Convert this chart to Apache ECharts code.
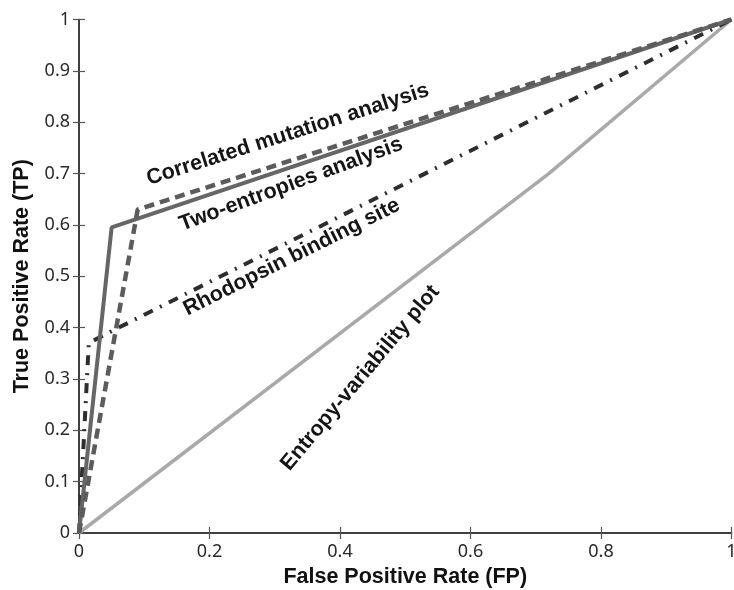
<!DOCTYPE html>
<html>
<head>
<meta charset="utf-8">
<script src="https://cdn.jsdelivr.net/npm/echarts@6/dist/echarts.min.js"></script>
<style>
  html, body { margin: 0; padding: 0; background: #fff; }
  #roc { width: 734px; height: 590px; }
</style>
</head>
<body>
<div id="roc"></div>
<script>
// 坐标轴刻度
const fpTicks = [0, 0.2, 0.4, 0.6, 0.8, 1]
const tpTicks = [0, 0.1, 0.2, 0.3, 0.4, 0.5, 0.6, 0.7, 0.8, 0.9, 1]

// 各条 ROC 曲线 (FP, TP)
const twoEntropiesFP = [0, 0.05, 1]
const twoEntropiesTP = [0, 0.595, 1]
const correlatedFP = [0, 0.09, 1]
const correlatedTP = [0, 0.63, 1]
const rhodopsinFP = [0, 0.015, 0.05, 1]
const rhodopsinTP = [0, 0.37, 0.393, 1]
const entropyFP = [0, 0.72, 1]
const entropyTP = [0, 0.70, 1]

// 曲线文字标注: 文本, 锚点(FP, TP), 角度
const labelTexts = ['Correlated mutation analysis', 'Two-entropies analysis', 'Rhodopsin binding site', 'Entropy-variability plot']
const labelFP = [0.32, 0.325, 0.326, 0.431]
const labelTP = [0.776, 0.679, 0.537, 0.302]
const labelAngle = [17.7, 20.3, 26.5, 50]

const pairs = (xs, ys) => xs.map((x, i) => [x, ys[i]])
const fmt = ticks => v => (ticks.includes(+v.toFixed(1)) ? String(+v.toFixed(1)) : '')

const myChart = echarts.init(document.querySelector('#roc'))

const axisLine = { show: true, lineStyle: { color: '#333', width: 1.5 } }
const tickIn = { show: true, inside: true, length: 6, lineStyle: { color: '#555', width: 1.2 } }
const tickFont = { color: '#2a2a2a', fontSize: 18, fontFamily: 'Noto Sans' }
const titleFont = { color: '#111', fontSize: 21.5, fontWeight: 'bold', fontFamily: 'Liberation Sans' }

const option = {
  animation: false,
  backgroundColor: '#fff',
  grid: { left: 79, right: 2.5, top: 19.5, bottom: 57, outerBoundsMode: 'none' },
  xAxis: [
    {
      type: 'value',
      min: 0,
      max: 1,
      interval: 0.2,
      name: 'False Positive Rate (FP)',
      nameLocation: 'middle',
      nameGap: 31,
      nameTextStyle: titleFont,
      axisLine: axisLine,
      axisTick: tickIn,
      axisLabel: { ...tickFont, margin: 10, formatter: fmt(fpTicks) },
      splitLine: { show: false },
    },
    {
      type: 'value',
      position: 'top',
      min: 0,
      max: 1,
      interval: 0.2,
      axisLine: axisLine,
      axisTick: tickIn,
      axisLabel: { show: false },
      splitLine: { show: false },
    },
  ],
  yAxis: [
    {
      type: 'value',
      min: 0,
      max: 1,
      interval: 0.1,
      name: 'True Positive Rate (TP)',
      nameLocation: 'middle',
      nameGap: 46,
      nameTextStyle: titleFont,
      axisLine: axisLine,
      axisTick: tickIn,
      axisLabel: { ...tickFont, margin: 9, formatter: fmt(tpTicks) },
      splitLine: { show: false },
    },
    {
      type: 'value',
      position: 'right',
      min: 0,
      max: 1,
      interval: 0.1,
      axisLine: axisLine,
      axisTick: tickIn,
      axisLabel: { show: false },
      splitLine: { show: false },
    },
  ],
  series: [
    {
      name: 'Entropy-variability plot',
      type: 'line',
      data: pairs(entropyFP, entropyTP),
      showSymbol: false,
      lineStyle: { color: '#a9a9a9', width: 3.5 },
      z: 2,
    },
    {
      name: 'Rhodopsin binding site',
      type: 'line',
      data: pairs(rhodopsinFP, rhodopsinTP),
      showSymbol: false,
      lineStyle: { color: '#2e2e2e', width: 4, type: [10, 8, 2, 8] },
      z: 3,
    },
    {
      name: 'Two-entropies analysis',
      type: 'line',
      data: pairs(twoEntropiesFP, twoEntropiesTP),
      showSymbol: false,
      lineStyle: { color: '#666', width: 4 },
      z: 4,
    },
    {
      name: 'Correlated mutation analysis',
      type: 'line',
      data: pairs(correlatedFP, correlatedTP),
      showSymbol: false,
      lineStyle: { color: '#5c5c5c', width: 4.5, type: [10, 6] },
      z: 5,
    },
  ],
}
myChart.setOption(option)

// 沿曲线旋转的文字标注
const graphics = labelTexts.map((text, i) => {
  const [x, y] = myChart.convertToPixel({ xAxisIndex: 0, yAxisIndex: 0 }, [labelFP[i], labelTP[i]])
  return {
    type: 'text',
    x: x,
    y: y,
    rotation: (labelAngle[i] * Math.PI) / 180,
    z: 10,
    style: {
      text: text,
      align: 'center',
      verticalAlign: 'middle',
      fill: '#151515',
      font: 'bold 21.5px "Liberation Sans", Arial, sans-serif',
    },
  }
})
myChart.setOption({ graphic: graphics })
</script>
</body>
</html>
